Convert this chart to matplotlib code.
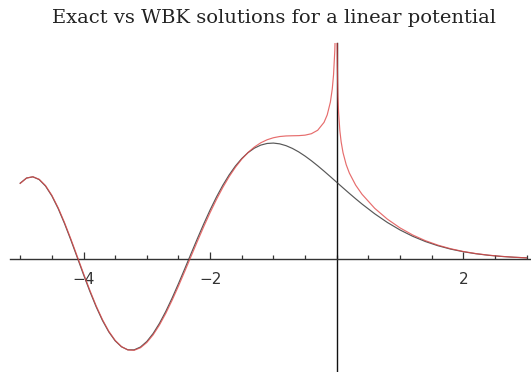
import matplotlib
matplotlib.use("Agg")
import matplotlib.pyplot as plt
from matplotlib.ticker import FixedLocator, MultipleLocator

# Exact solution (Airy function) sampled along x
x_exact = [-5.0, -4.9, -4.8, -4.7, -4.6, -4.5, -4.4, -4.3, -4.2, -4.1,
           -4.0, -3.9, -3.8, -3.7, -3.6, -3.5, -3.4, -3.3, -3.2, -3.1,
           -3.0, -2.9, -2.8, -2.7, -2.6, -2.5, -2.4, -2.3, -2.2, -2.1,
           -2.0, -1.9, -1.8, -1.7, -1.6, -1.5, -1.4, -1.3, -1.2, -1.1,
           -1.0, -0.9, -0.8, -0.7, -0.6, -0.5, -0.4, -0.3, -0.2, -0.1,
           0.0, 0.1, 0.2, 0.3, 0.4, 0.6, 0.8, 1.0, 1.2, 1.4, 1.6, 1.8,
           2.0, 2.2, 2.4, 2.6, 2.8, 3.0]
y_exact = [0.3508, 0.3745, 0.3800, 0.3674, 0.3375, 0.2921, 0.2337, 0.1649,
           0.0891, 0.0096, -0.0703, -0.1475, -0.2189, -0.2821, -0.3348,
           -0.3756, -0.4032, -0.4171, -0.4173, -0.4042, -0.3788, -0.3419,
           -0.2951, -0.2400, -0.1785, -0.1123, -0.0433, 0.0267, 0.0961,
           0.1635, 0.2274, 0.2868, 0.3408, 0.3886, 0.4299, 0.4643, 0.4917,
           0.5123, 0.5262, 0.5338, 0.5356, 0.5320, 0.5236, 0.5110, 0.4949,
           0.4757, 0.4542, 0.4309, 0.4063, 0.3809, 0.3550, 0.3292, 0.3037,
           0.2788, 0.2547, 0.2098, 0.1698, 0.1353, 0.1061, 0.0820, 0.0625,
           0.0470, 0.0349, 0.0256, 0.0185, 0.0133, 0.0094, 0.0066]

# WKB approximation, left of the turning point
x_wkb_left = [-5.0, -4.9, -4.8, -4.7, -4.6, -4.5, -4.4, -4.3, -4.2, -4.1,
              -4.0, -3.9, -3.8, -3.7, -3.6, -3.5, -3.4, -3.3, -3.2, -3.1,
              -3.0, -2.9, -2.8, -2.7, -2.6, -2.5, -2.4, -2.3, -2.2, -2.1,
              -2.0, -1.9, -1.8, -1.7, -1.6, -1.5, -1.4, -1.3, -1.2, -1.1,
              -1.0, -0.9, -0.8, -0.7, -0.6, -0.5, -0.4, -0.3, -0.2, -0.15,
              -0.1, -0.07, -0.05, -0.03, -0.02, -0.01]
y_wkb_left = [0.3497, 0.3742, 0.3805, 0.3687, 0.3397, 0.2951, 0.2374, 0.1692,
              0.0939, 0.0146, -0.0653, -0.1426, -0.2145, -0.2782, -0.3318,
              -0.3735, -0.4023, -0.4176, -0.4193, -0.4077, -0.3836, -0.3482,
              -0.3028, -0.2491, -0.1887, -0.1236, -0.0554, 0.0141, 0.0833,
              0.1507, 0.2151, 0.2754, 0.3307, 0.3804, 0.4240, 0.4614, 0.4925,
              0.5176, 0.5368, 0.5508, 0.5602, 0.5658, 0.5684, 0.5693, 0.5699,
              0.5721, 0.5787, 0.5948, 0.6311, 0.6654, 0.7242, 0.7851, 0.8499,
              0.9619, 1.0629, 1.2624]

# WKB approximation, right of the turning point
x_wkb_right = [0.005, 0.01, 0.02, 0.03, 0.05, 0.07, 0.1, 0.15, 0.2, 0.3, 0.4,
               0.6, 0.8, 1.0, 1.2, 1.4, 1.6, 1.8, 2.0, 2.2, 2.4, 2.6, 2.8, 3.0]
y_wkb_right = [1.0608, 0.8915, 0.7487, 0.6755, 0.5921, 0.5417, 0.4912, 0.4361,
               0.3974, 0.3416, 0.2997, 0.2351, 0.1851, 0.1448, 0.1122, 0.0860,
               0.0651, 0.0487, 0.0360, 0.0263, 0.0190, 0.0136, 0.0096, 0.0067]

major_ticks = [-4, -2, 2]
major_labels = ["\u22124", "\u22122", "2"]

W, H = 531, 372
fig = plt.figure(figsize=(W / 100, H / 100), dpi=100)

x0_px, x_unit = 336.7, 63.3
y0_px, y_unit = 259.3, 217.0
left_px, top_px = 10.0, 43.3
ax = fig.add_axes([left_px / W, 0.0, (W - left_px) / W, (H - top_px) / H])
ax.set_xlim((left_px - x0_px) / x_unit, (W - x0_px) / x_unit)
ax.set_ylim(-(H - y0_px) / y_unit, (y0_px - top_px) / y_unit)

ax.plot(x_exact, y_exact, color="#3a3a3a", lw=0.85, alpha=0.85, zorder=3)
ax.plot(x_wkb_left, y_wkb_left, color="#e04848", lw=0.85, alpha=0.8, zorder=4)
ax.plot(x_wkb_right, y_wkb_right, color="#e04848", lw=0.85, alpha=0.8, zorder=4)

for s in ["top", "right"]:
    ax.spines[s].set_visible(False)
ax.spines["left"].set_position(("data", 0))
ax.spines["bottom"].set_position(("data", 0))
ax.spines["left"].set_color("#111111")
ax.spines["left"].set_linewidth(1.0)
ax.spines["bottom"].set_color("#333333")
ax.spines["bottom"].set_linewidth(1.0)

ax.yaxis.set_visible(False)
ax.xaxis.set_major_locator(FixedLocator(major_ticks))
ax.set_xticklabels(major_labels)
ax.xaxis.set_minor_locator(MultipleLocator(0.5))
ax.tick_params(axis="x", which="major", direction="in", length=5.0, width=0.9,
               color="#333333", pad=9, labelsize=11, labelcolor="#333333")
ax.tick_params(axis="x", which="minor", direction="in", length=3.2, width=0.9,
               color="#333333")
ax.set_facecolor("white")

fig.text(274 / W, 1 - 22.7 / H, "Exact vs WBK solutions for a linear potential",
         ha="center", va="baseline", family="DejaVu Serif", fontsize=14,
         color="#222222")

fig.savefig("out.png", dpi=100)
